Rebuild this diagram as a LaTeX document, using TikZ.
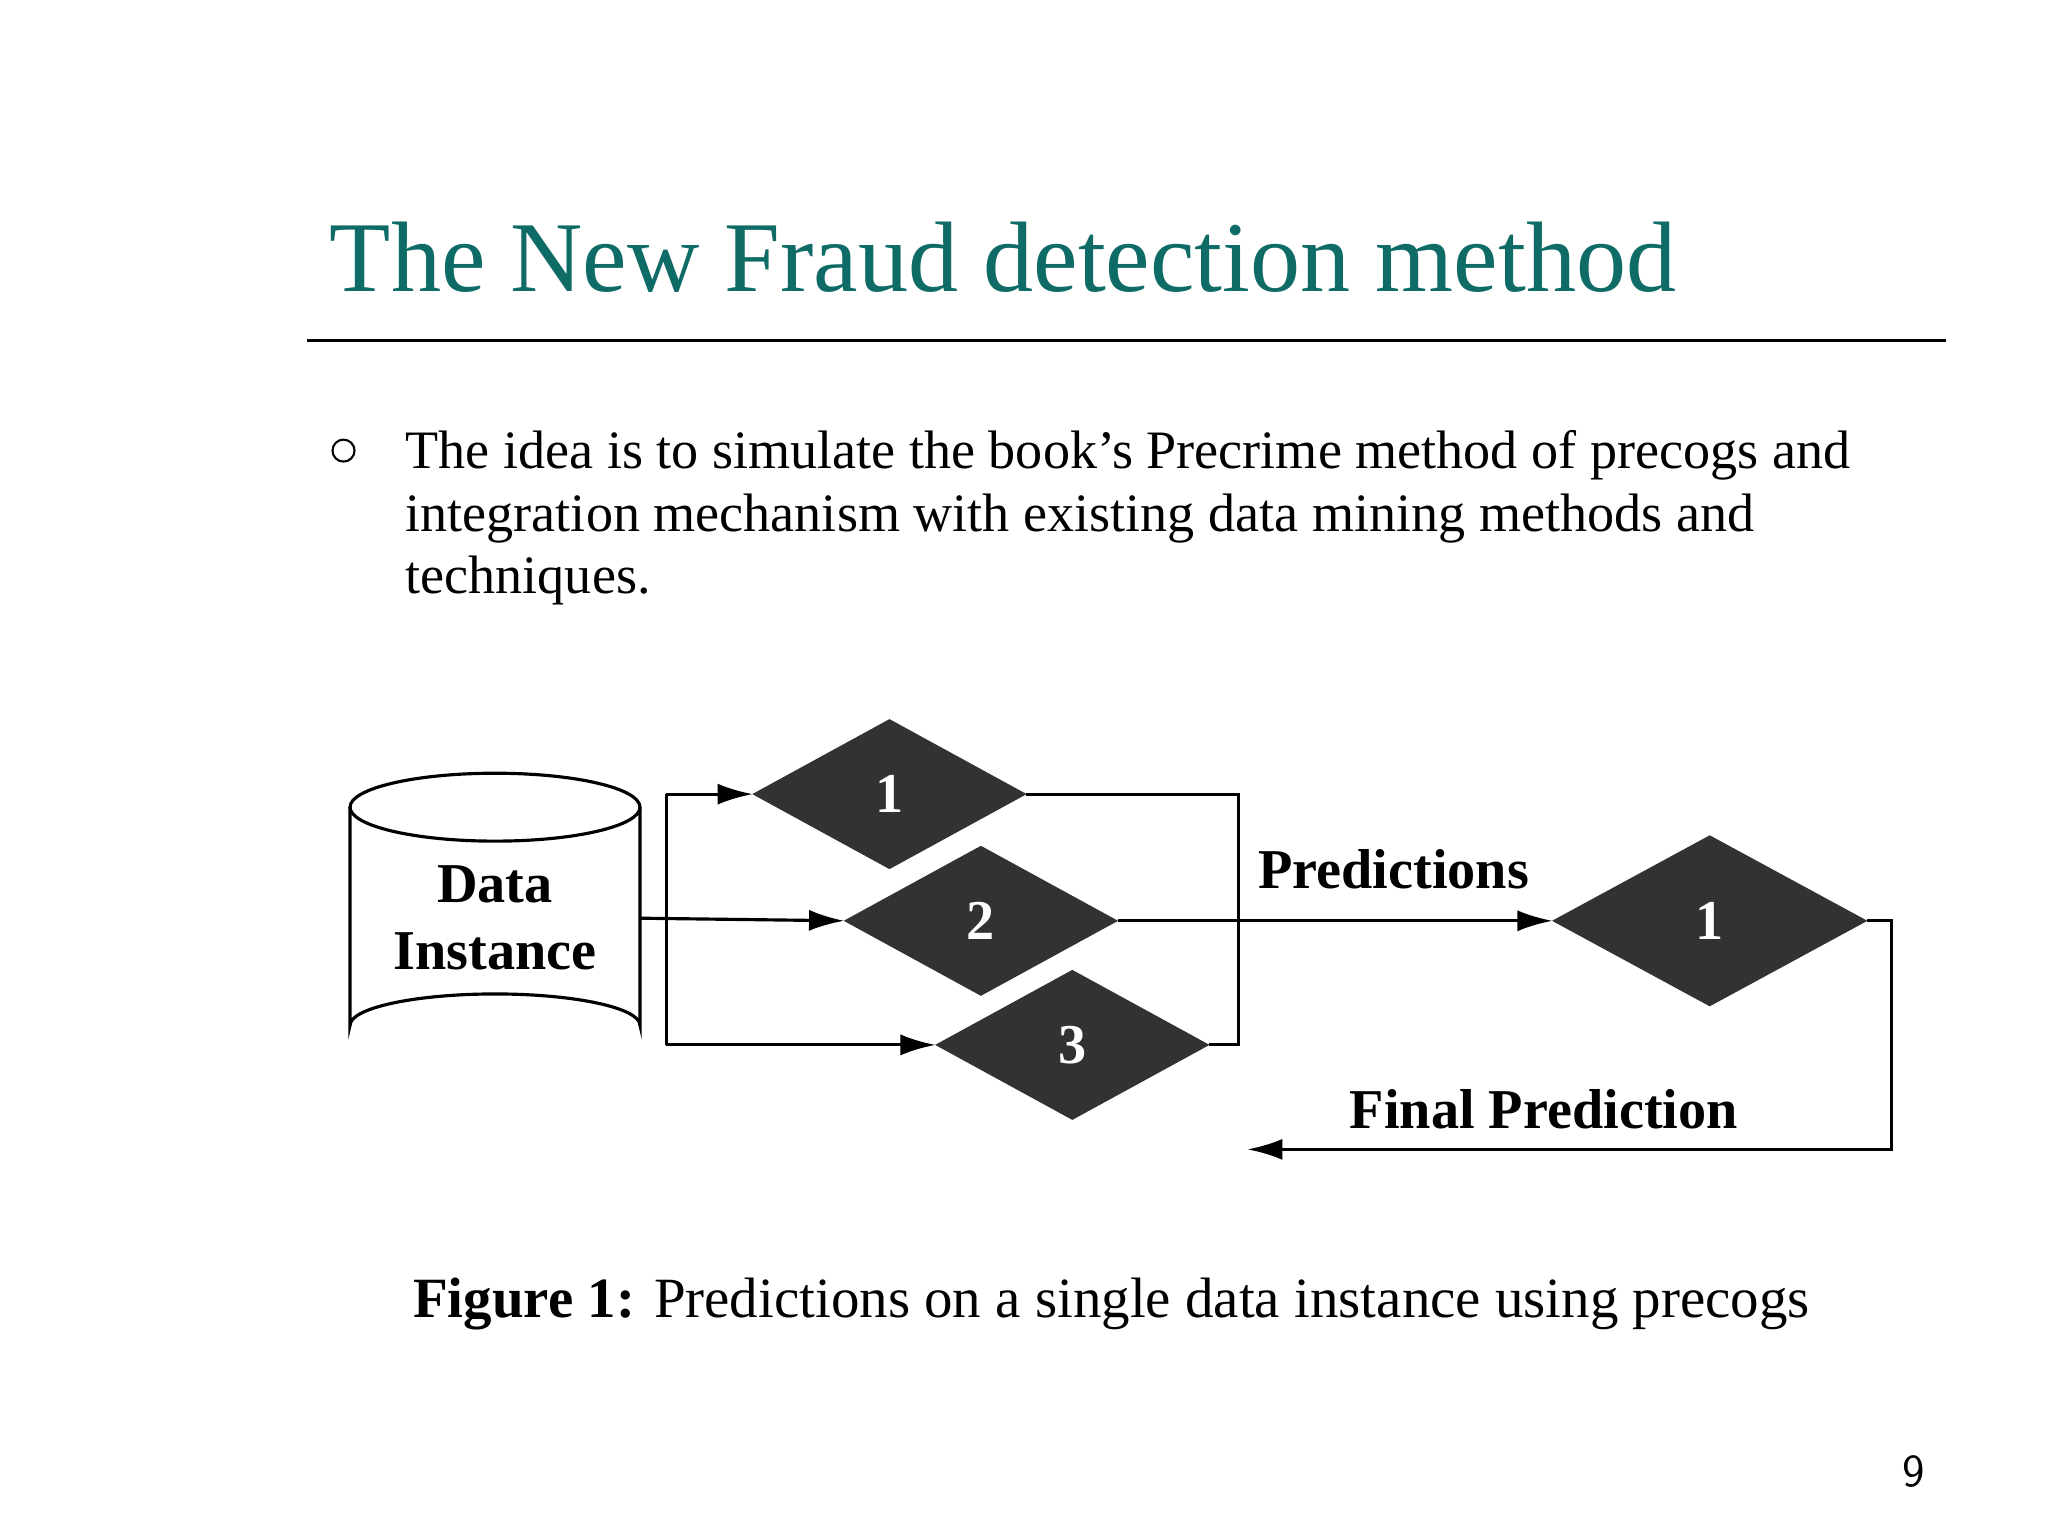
\documentclass[tikz,border=0pt]{standalone}
\usepackage{fontspec}
\setmainfont{Liberation Serif}
\usetikzlibrary{shapes.geometric,arrows.meta}
\definecolor{teal}{RGB}{14,107,102}
\definecolor{dia}{RGB}{50,50,50}
\begin{document}
\begin{tikzpicture}[x=0.013061cm,y=-0.013061cm,
  prec/.style={diamond,fill=dia,draw=dia,inner sep=0pt,aspect=1.83,
    minimum width=2.72cm,minimum height=1.49cm,text=white,font=\fontsize{16}{18}\selectfont\bfseries},
  ln/.style={line width=0.9pt},
  arr/.style={ln,-{Latex[length=10pt,width=6pt]}},
  lbl/.style={font=\fontsize{16}{19}\selectfont\bfseries,align=center}]
\useasboundingbox (0,0) rectangle (1568,1176);
% title
\node[anchor=base west,text=teal,font=\fontsize{28.5}{34}\selectfont,inner sep=0pt] (title) at (252,223) {The New Fraud detection method};
\draw[line width=0.8pt] (235,261) -- (1490,261);
\node[circle,draw,line width=0.6pt,minimum size=0.22cm,inner sep=0pt] (bul) at (263,345) {};
\node[anchor=north west,align=left,inner sep=0pt,font=\fontsize{15.4}{17.8}\selectfont] (txt) at (310,329)
 {The idea is to simulate the book’s Precrime method of precogs and\\
  integration mechanism with existing data mining methods and\\
  techniques.};
% cylinder
\draw[ln,fill=white] (268,618) -- (268,785) arc[start angle=180,end angle=360,x radius=111,y radius=24]
  -- (490,618);
\draw[ln] (379,618) ellipse[x radius=111,y radius=26];
\node[lbl] (cyl) at (379,703) {Data\\Instance};
% precogs
\node[prec] (p1) at (681,608) {1};
\node[prec] (p2) at (751,705) {2};
\node[prec] (p3) at (821,800) {3};
\node[prec,minimum width=3.13cm,minimum height=1.70cm] (p4) at (1309,705) {1};
% distribution
\coordinate (s) at (490,703);
\coordinate (jt) at (510,608);
\coordinate (jb) at (510,800);
\draw[ln] (jt) -- (jb);
\draw[arr] (jt) -- (p1.west);
\draw[arr] (s) -- (p2.west);
\draw[arr] (jb) -- (p3.west);
% collection
\coordinate (ct) at (948,608);
\coordinate (cb) at (948,800);
\draw[ln] (p1.east) -- (ct) -- (cb) -- (p3.east);
\draw[arr] (p2.east) -- (p4.west);
\node[lbl,anchor=base] (pred) at (1067,680) {Predictions};
% final
\coordinate (f1) at (1448,705);
\coordinate (f2) at (1448,880);
\coordinate (fe) at (955,880);
\draw[arr] (p4.east) -- (f1) -- (f2) -- (fe);
\node[lbl,anchor=base] (fin) at (1182,864) {Final Prediction};
% caption
\node[anchor=base,font=\fontsize{16.2}{19}\selectfont] (cap) at (851,1009) {\textbf{Figure 1:} Predictions on a single data instance using precogs};
\node[font=\sffamily\fontsize{13}{15}\selectfont] (pg) at (1465,1127) {9};
\end{tikzpicture}
\end{document}
